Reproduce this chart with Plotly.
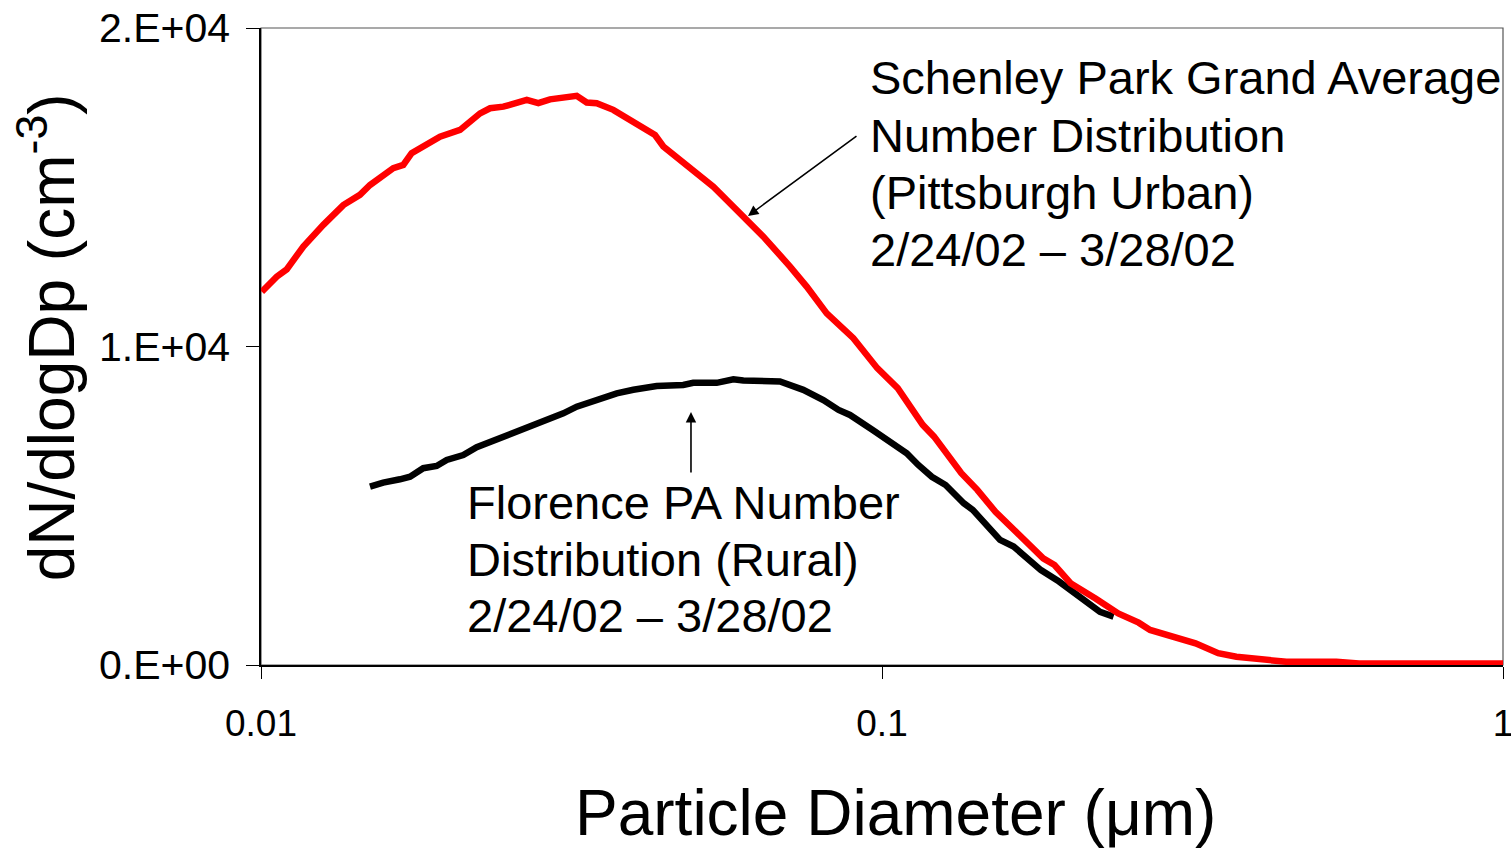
import plotly.graph_objects as go

# Schenley Park (Pittsburgh, urban) grand-average number distribution
urban_dp = [0.01003, 0.0106, 0.0110, 0.0117, 0.0126, 0.01357, 0.01443, 0.01498, 0.01633, 0.01695,
            0.01748, 0.01825, 0.01942, 0.02092, 0.02253, 0.02338, 0.02456, 0.02679, 0.02796, 0.0292,
            0.0303, 0.03145, 0.03224, 0.03346, 0.03472, 0.03692, 0.03928, 0.04179, 0.0431, 0.04445,
            0.04727, 0.04906, 0.05155, 0.0535, 0.0569, 0.06085, 0.06441, 0.07111, 0.07563, 0.08147,
            0.08992, 0.09826, 0.106, 0.1163, 0.1213, 0.1342, 0.1424, 0.1523, 0.1562, 0.1643,
            0.1743, 0.1818, 0.1896, 0.2012, 0.2207, 0.2401, 0.259, 0.2702, 0.3198, 0.3478,
            0.3721, 0.4046, 0.433, 0.4479, 0.5391, 0.5863, 1.0]
urban_dn = [11720, 12190, 12420, 13140, 13820, 14440, 14760, 15070, 15600, 15700,
            16070, 16300, 16590, 16800, 17320, 17480, 17530, 17740, 17640, 17760,
            17790, 17870, 17870, 17660, 17640, 17430, 17110, 16750, 16640, 16280,
            15860, 15650, 15280, 15020, 14500, 13950, 13450, 12510, 11880, 11040,
            10260, 9320, 8690, 7540, 7170, 6020, 5500, 4810, 4600, 4240,
            3720, 3350, 3140, 2570, 2090, 1620, 1330, 1100, 680, 370,
            260, 180, 160, 100, 100, 50, 50]

# Florence PA (rural) number distribution
rural_dp = [0.01498, 0.01573, 0.01674, 0.01738, 0.01825, 0.01918, 0.01991, 0.02117, 0.02225, 0.02366,
            0.02518, 0.02712, 0.02849, 0.03068, 0.03224, 0.03472, 0.0374, 0.03977, 0.04337, 0.04786,
            0.04967, 0.05418, 0.05763, 0.0598, 0.0685, 0.07468, 0.08045, 0.08513, 0.08881, 0.09661,
            0.1033, 0.1096, 0.1144, 0.1203, 0.1266, 0.1354, 0.14, 0.1549, 0.1629, 0.1714,
            0.1803, 0.1928, 0.2098, 0.2244, 0.236]
rural_dn = [5600, 5725, 5830, 5910, 6180, 6250, 6440, 6590, 6840, 7040,
            7270, 7480, 7690, 7900, 8110, 8320, 8530, 8640, 8760, 8790,
            8860, 8860, 8970, 8930, 8900, 8640, 8320, 8010, 7850, 7380,
            6960, 6650, 6280, 5910, 5650, 5080, 4870, 3930, 3720, 3350,
            2980, 2620, 2090, 1670, 1520]

y_tickvals = [0, 10000, 20000]
y_ticktext = ["0.E+00", "1.E+04", "2.E+04"]
x_tickvals = [0.01, 0.1, 1]
x_ticktext = ["0.01", "0.1", "1"]

urban_lines = ["Schenley Park Grand Average", "Number Distribution",
               "(Pittsburgh Urban)", "2/24/02 – 3/28/02"]
urban_line_y = [0.922, 0.831, 0.742, 0.652]
urban_x = 0.4885

rural_lines = ["Florence PA Number", "Distribution (Rural)", "2/24/02 – 3/28/02"]
rural_line_y = [0.255, 0.166, 0.077]
rural_x = 0.1645

FONT = "Liberation Sans, Arial, sans-serif"

fig = go.Figure()
fig.add_trace(go.Scatter(x=rural_dp, y=rural_dn, mode="lines",
                         line=dict(color="#000000", width=6.5), showlegend=False))
fig.add_trace(go.Scatter(x=urban_dp, y=urban_dn, mode="lines",
                         line=dict(color="#ff0000", width=6.5), showlegend=False))

# plot-area frame (top and right edges)
fig.add_shape(type="rect", xref="paper", yref="paper", x0=0, x1=1, y0=0, y1=1,
              line=dict(color="#555555", width=1.2), layer="below")

# text blocks, one annotation per line
for txt, yy in zip(urban_lines, urban_line_y):
    fig.add_annotation(text=txt, xref="paper", yref="paper", x=urban_x, y=yy,
                       xanchor="left", yanchor="middle", align="left", showarrow=False,
                       font=dict(family=FONT, size=47, color="#000000"))
for txt, yy in zip(rural_lines, rural_line_y):
    fig.add_annotation(text=txt, xref="paper", yref="paper", x=rural_x, y=yy,
                       xanchor="left", yanchor="middle", align="left", showarrow=False,
                       font=dict(family=FONT, size=47, color="#000000"))

# pointer arrows (x given in log10 units for the log axis)
fig.add_annotation(text="", x=-1.2158, y=14100, xref="x", yref="y",
                   ax=110, ay=-81, showarrow=True, arrowhead=2, arrowsize=1.3,
                   arrowwidth=1.6, arrowcolor="#000000")
fig.add_annotation(text="", x=-1.3076, y=7944, xref="x", yref="y",
                   ax=0, ay=62, showarrow=True, arrowhead=2, arrowsize=1.3,
                   arrowwidth=1.6, arrowcolor="#000000")

# axis titles
fig.add_annotation(text="dN/dlogDp (cm<sup>-3</sup>)", xref="paper", yref="paper",
                   x=-0.172, y=0.515, xanchor="center", yanchor="middle",
                   textangle=-90, showarrow=False,
                   font=dict(family=FONT, size=64, color="#000000"))
fig.add_annotation(text="Particle Diameter (μm)", xref="paper", yref="paper",
                   x=0.5105, y=-0.232, xanchor="center", yanchor="middle",
                   showarrow=False,
                   font=dict(family=FONT, size=64, color="#000000"))

fig.update_layout(
    width=1511, height=848,
    margin=dict(l=261, r=8, t=28, b=183, autoexpand=False),
    paper_bgcolor="#ffffff", plot_bgcolor="#ffffff",
    font=dict(family=FONT, color="#000000"),
    showlegend=False,
)
fig.update_xaxes(
    type="log", range=[-2, 0], automargin=False,
    tickvals=x_tickvals, ticktext=x_ticktext,
    tickfont=dict(family=FONT, size=37),
    ticks="outside", ticklen=12, tickwidth=1.2, tickcolor="#000000",
    ticklabelstandoff=13, ticklabeloverflow="allow",
    showline=True, linecolor="#000000", linewidth=1.5,
    showgrid=False, zeroline=False,
)
fig.update_yaxes(
    range=[0, 20000], automargin=False,
    tickvals=y_tickvals, ticktext=y_ticktext,
    tickfont=dict(family=FONT, size=41),
    ticks="outside", ticklen=13, tickwidth=1.2, tickcolor="#000000",
    ticklabelstandoff=8,
    showline=True, linecolor="#000000", linewidth=1.5,
    showgrid=False, zeroline=False,
)

fig.write_html("out.html")
